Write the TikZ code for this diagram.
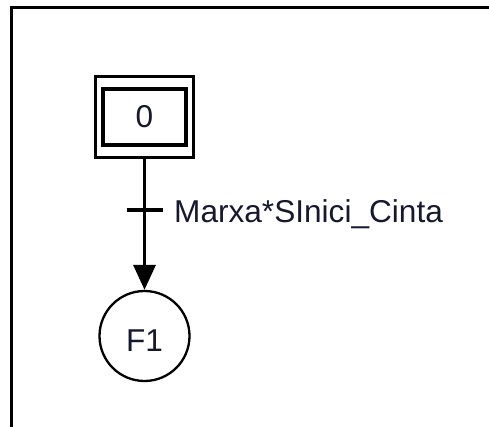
\documentclass[tikz,border=0pt]{standalone}
\usepackage{fontspec}
\setmainfont{Liberation Sans}
\usetikzlibrary{arrows.meta}
\definecolor{labelink}{RGB}{22,24,48}
\tikzset{
  frame/.style={line width=3.4pt, black},
  stepbox/.style={draw, line width=3.4pt, rectangle, inner sep=0pt},
  macrostep/.style={draw, line width=2.3pt, circle, inner sep=0pt, minimum size=90pt, text height=31pt},
  flow/.style={line width=3.2pt, -{Triangle[length=25pt,width=22pt]}},
  tick/.style={line width=3.2pt},
  grtext/.style={text=labelink, font=\fontsize{31.6}{38}\selectfont},
}
\begin{document}
\begin{tikzpicture}[x=1pt, y=-1pt]
  \useasboundingbox (0,0) rectangle (489,427);
  % page frame (top and left edges)
  \draw[frame] (495,7.5) -- (11.5,7.5) -- (11.5,435);
  % initial step 0
  \node[stepbox, grtext, minimum width=83pt, minimum height=56pt] (s0) at (144.5,117) {0};
  \node[stepbox, minimum width=98pt, minimum height=81pt] (s0o) at (144.5,117) {};
  % macro-step F1
  \node[macrostep, grtext] (f1) at (144.5,336) {F1};
  % link with transition
  \draw[flow] (s0o.south) -- (f1.north);
  \coordinate (t) at (144.5,210);
  \draw[tick] ([xshift=-18pt]t) -- ([xshift=18pt]t);
  \node[grtext, anchor=base west, inner sep=0pt] (cond) at (174,222.5) {Marxa*SInici\_Cinta};
\end{tikzpicture}
\end{document}
